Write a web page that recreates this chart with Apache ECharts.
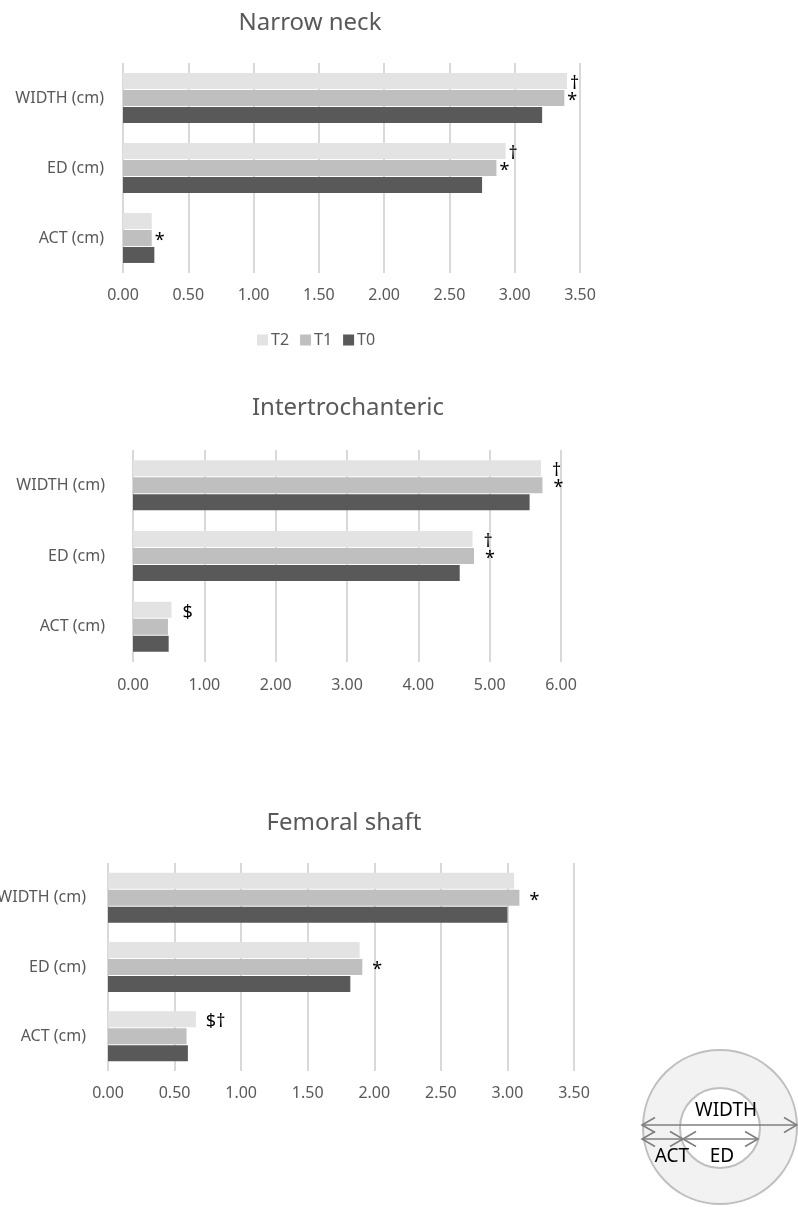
<!DOCTYPE html>
<html><head><meta charset="utf-8">
<script src="https://cdn.jsdelivr.net/npm/echarts@6/dist/echarts.min.js"></script>
<style>html,body{margin:0;padding:0;background:#fff}#c{width:798px;height:1207px}</style>
</head><body><div id="c"></div>
<script>
// ---------- data ----------
const categories = ['ACT (cm)', 'ED (cm)', 'WIDTH (cm)'];
const seriesNames = ['T2', 'T1', 'T0'];
const chartTitles = ['Narrow neck', 'Intertrochanteric', 'Femoral shaft'];

// Narrow neck
const neckT2 = [0.22, 2.93, 3.40];
const neckT1 = [0.22, 2.86, 3.38];
const neckT0 = [0.24, 2.75, 3.21];
const neckT2Marks = ['', '†', '†'];
const neckT1Marks = ['*', '*', '*'];
const neckT0Marks = ['', '', ''];
const neckTicks = [0, 0.5, 1, 1.5, 2, 2.5, 3, 3.5];

// Intertrochanteric
const interT2 = [0.54, 4.76, 5.72];
const interT1 = [0.49, 4.78, 5.74];
const interT0 = [0.50, 4.58, 5.56];
const interT2Marks = ['$', '†', '†'];
const interT1Marks = ['', '*', '*'];
const interT0Marks = ['', '', ''];
const interTicks = [0, 1, 2, 3, 4, 5, 6];

// Femoral shaft
const shaftT2 = [0.66, 1.89, 3.05];
const shaftT1 = [0.59, 1.91, 3.09];
const shaftT0 = [0.60, 1.82, 3.00];
const shaftT2Marks = ['$†', '', ''];
const shaftT1Marks = ['', '*', '*'];
const shaftT0Marks = ['', '', ''];
const shaftTicks = [0, 0.5, 1, 1.5, 2, 2.5, 3, 3.5];

// ---------- styles / layout ----------
const FONT = 'Noto Sans';
const colors = { T2: '#e3e3e3', T1: '#bfbfbf', T0: '#595959' };
const grids = [
  { left: 123, top: 63, width: 457, height: 210, outerBoundsMode: 'none', containLabel: false },
  { left: 133, top: 450, width: 428, height: 212, outerBoundsMode: 'none', containLabel: false },
  { left: 108, top: 863, width: 466, height: 208, outerBoundsMode: 'none', containLabel: false }
];
const yLabelMargins = [19, 28, 22];
const xLabelMargins = [14, 15, 14];
const markDistances = [3, 11, 10];
const titlePos = [[310, 23], [348, 408], [344, 823]];

const panels = [
  { vals: { T2: neckT2, T1: neckT1, T0: neckT0 }, marks: { T2: neckT2Marks, T1: neckT1Marks, T0: neckT0Marks }, ticks: neckTicks },
  { vals: { T2: interT2, T1: interT1, T0: interT0 }, marks: { T2: interT2Marks, T1: interT1Marks, T0: interT0Marks }, ticks: interTicks },
  { vals: { T2: shaftT2, T1: shaftT1, T0: shaftT0 }, marks: { T2: shaftT2Marks, T1: shaftT1Marks, T0: shaftT0Marks }, ticks: shaftTicks }
];

const xAxes = [], yAxes = [], series = [];
panels.forEach((p, i) => {
  const t = p.ticks;
  xAxes.push({
    type: 'value', gridIndex: i,
    min: t[0], max: t[t.length - 1], interval: t[1] - t[0],
    axisLine: { show: false }, axisTick: { show: false },
    splitLine: { show: true, lineStyle: { color: '#d9d9d9', width: 2 } },
    axisLabel: { color: '#595959', fontSize: 16, fontFamily: FONT, margin: xLabelMargins[i],
      formatter: v => v.toFixed(2) }
  });
  yAxes.push({
    type: 'category', gridIndex: i, data: categories,
    axisLine: { show: false }, axisTick: { show: false },
    axisLabel: { color: '#595959', fontSize: 16, fontFamily: FONT, margin: yLabelMargins[i] }
  });
  seriesNames.forEach(name => {
    series.push({
      type: 'bar', name: name, xAxisIndex: i, yAxisIndex: i,
      barWidth: 16, barGap: '6%',
      itemStyle: { color: colors[name] },
      label: { show: false, position: 'right', distance: markDistances[i], offset: [0, 3],
        color: '#000', fontSize: 18, fontFamily: FONT },
      data: p.vals[name].map((v, k) => {
        const m = p.marks[name][k];
        return m ? { value: v, label: { show: true, formatter: m } } : { value: v };
      })
    });
  });
});

const titleGraphics = chartTitles.map((tt, i) => ({
  type: 'text', x: titlePos[i][0], y: titlePos[i][1], silent: true,
  style: { text: tt, fill: '#595959', fontSize: 24, fontFamily: FONT, align: 'center', verticalAlign: 'middle' }
}));

// cross-section diagram
const AC = '#7f7f7f';
function arrowHead(tipX, tipY, dir) {
  return { type: 'polyline', silent: true,
    shape: { points: [[tipX - dir * 13, tipY - 7.5], [tipX, tipY], [tipX - dir * 13, tipY + 7.5]] },
    style: { stroke: AC, lineWidth: 1.6, fill: null } };
}
function dArrow(x1, x2, y) {
  return [
    { type: 'line', silent: true, shape: { x1: x1, y1: y, x2: x2, y2: y }, style: { stroke: AC, lineWidth: 1.6 } },
    arrowHead(x1, y, -1), arrowHead(x2, y, 1)
  ];
}
const diagram = [
  { type: 'circle', silent: true, shape: { cx: 720, cy: 1127, r: 77 }, style: { fill: '#f2f2f2', stroke: '#bfbfbf', lineWidth: 2 } },
  { type: 'circle', silent: true, shape: { cx: 720, cy: 1128, r: 40 }, style: { fill: '#ffffff', stroke: '#bfbfbf', lineWidth: 2 } },
  ...dArrow(642, 797, 1125),
  ...dArrow(642, 683, 1139),
  ...dArrow(683, 758, 1139),
  { type: 'text', silent: true, x: 726, y: 1111, style: { text: 'WIDTH', fill: '#000', fontSize: 19, fontFamily: FONT, align: 'center', verticalAlign: 'middle' } },
  { type: 'text', silent: true, x: 672, y: 1157, style: { text: 'ACT', fill: '#000', fontSize: 19, fontFamily: FONT, align: 'center', verticalAlign: 'middle' } },
  { type: 'text', silent: true, x: 722, y: 1157, style: { text: 'ED', fill: '#000', fontSize: 19, fontFamily: FONT, align: 'center', verticalAlign: 'middle' } }
];

const chart = echarts.init(document.getElementById('c'), null, { renderer: 'canvas' });
chart.setOption({
  animation: false,
  backgroundColor: '#ffffff',
  textStyle: { fontFamily: FONT },
  legend: {
    data: seriesNames, left: 252, top: 327,
    itemWidth: 11, itemHeight: 11, itemGap: 11, icon: 'rect',
    textStyle: { color: '#595959', fontSize: 16, fontFamily: FONT, padding: [0, 0, 0, -2] }
  },
  grid: grids,
  xAxis: xAxes,
  yAxis: yAxes,
  series: series,
  graphic: titleGraphics.concat(diagram)
});
</script>
</body></html>
